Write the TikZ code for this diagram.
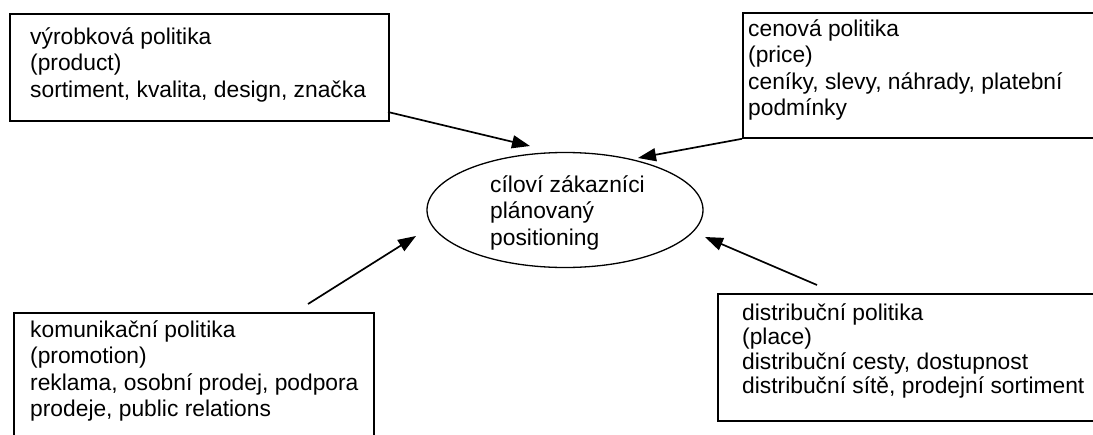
\documentclass[tikz,border=0pt]{standalone}
\usepackage{fontspec}
\setmainfont{Liberation Sans}
\usetikzlibrary{shapes.geometric,arrows.meta}
\tikzset{
  box/.style={draw, line width=1.8pt, inner sep=0pt, anchor=north west},
  txt/.style={align=left, anchor=base west, inner sep=0pt, font=\fontsize{22.8}{26.5}\selectfont},
  arr/.style={-{Triangle[length=18pt,width=13pt]}, line width=1.7pt},
}
\begin{document}
\begin{tikzpicture}[x=1pt,y=-1pt]
\clip (0,0) rectangle (1093,434);
\fill[white] (0,0) rectangle (1093,434);
% boxes
\node[box, minimum width=379pt, minimum height=107pt] (b1) at (9,13) {};
\node[box, minimum width=360pt, minimum height=125pt] (b2) at (742,12) {};
\node[box, minimum width=360pt, minimum height=140pt] (b3) at (13,312) {};
\node[box, minimum width=390pt, minimum height=127pt] (b4) at (717,293) {};
% texts (anchored at the baseline of the last line)
\node[txt] (t1) at (30,97) {výrobková politika\\(product)\\sortiment, kvalita, design, značka};
\node[txt] (t2) at (748,115.5) {cenová politika\\(price)\\ceníky, slevy, náhrady, platební\\podmínky};
\node[txt] (t3) at (30,416.5) {komunikační politika\\(promotion)\\reklama, osobní prodej, podpora\\prodeje, public relations};
\node[txt, font=\fontsize{22.8}{24.5}\selectfont] (t4) at (742,393.5) {distribuční politika\\(place)\\distribuční cesty, dostupnost\\distribuční sítě, prodejní sortiment};
% center
\node[draw, ellipse, line width=1.3pt, minimum width=276pt, minimum height=115pt, inner sep=0pt] (e) at (565,210) {};
\node[txt] (te) at (490,245) {cíloví zákazníci\\plánovaný\\positioning};
% arrow ends
\coordinate (s1) at (388,112);
\coordinate (e1) at (530,146);
\coordinate (e2) at (638,158);
\coordinate (s3) at (308,304);
\coordinate (e3) at (416,236);
\coordinate (s4) at (817,285);
\coordinate (e4) at (705,237);
\draw[arr] (s1) -- (e1);
\draw[arr] (b2.south west) -- (e2);
\draw[arr] (s3) -- (e3);
\draw[arr] (s4) -- (e4);
\end{tikzpicture}
\end{document}
